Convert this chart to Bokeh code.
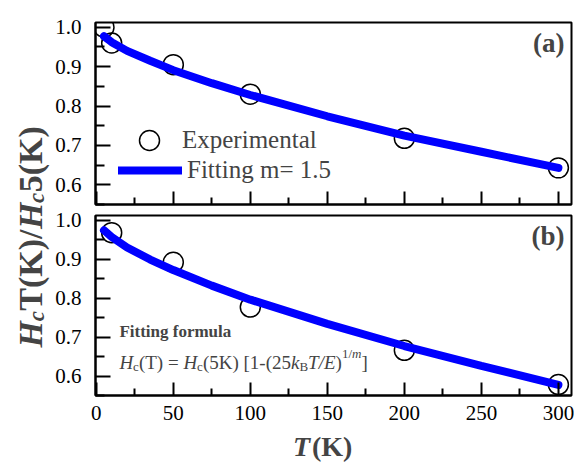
from math import pi
from bokeh.plotting import figure
from bokeh.layouts import row, column
from bokeh.models import Range1d, FixedTicker, PrintfTickFormatter, Label, Legend, LegendItem
from bokeh.embed import file_html
from bokeh.resources import INLINE

# ---------------- data ----------------
T_exp_a = [5, 10, 50, 100, 200, 300]
H_exp_a = [1.0, 0.96, 0.905, 0.83, 0.718, 0.643]

T_exp_b = [10, 50, 100, 200, 300]
H_exp_b = [0.968, 0.892, 0.777, 0.666, 0.578]

T_fit = [5, 10, 20, 35, 50, 75, 100, 150, 200, 250, 300]
H_fit_a = [0.977, 0.962, 0.940, 0.915, 0.891, 0.858, 0.828, 0.774, 0.725, 0.684, 0.643]
H_fit_b = [0.974, 0.957, 0.930, 0.899, 0.872, 0.832, 0.796, 0.734, 0.677, 0.626, 0.577]

x_major = [0, 50, 100, 150, 200, 250, 300]
x_minor = [25, 75, 125, 175, 225, 275]
y_major = [0.6, 0.7, 0.8, 0.9, 1.0]
y_minor = [0.55, 0.65, 0.75, 0.85, 0.95]

FONT = "Liberation Serif"
BLUE = "#0000ff"
FRAME_W = 476
LEFT_B = 41
LAB_W = 52
Y_TOP = 1.012


def make_panel(top, bottom, frame_h):
    p = figure(frame_width=FRAME_W, frame_height=frame_h,
               x_range=Range1d(-0.5, 308.5), y_range=Range1d(0.55, Y_TOP),
               output_backend="svg", toolbar_location=None,
               min_border_left=LEFT_B, min_border_right=4,
               min_border_top=top, min_border_bottom=bottom)
    p.grid.visible = False
    p.outline_line_color = "black"
    p.outline_line_width = 2
    for ax in (p.xaxis[0], p.yaxis[0]):
        ax.axis_line_width = 2
        ax.axis_line_color = "black"
        ax.major_tick_line_width = 2
        ax.minor_tick_line_width = 2
        ax.major_tick_line_color = "black"
        ax.minor_tick_line_color = "black"
        ax.major_tick_out = 0
        ax.minor_tick_out = 0
        ax.major_label_text_font = FONT
        ax.major_label_text_font_size = "21px"
        ax.major_label_text_color = "black"
    p.xaxis.ticker = FixedTicker(ticks=x_major, minor_ticks=x_minor)
    p.yaxis.ticker = FixedTicker(ticks=y_major, minor_ticks=y_minor)
    p.yaxis.formatter = PrintfTickFormatter(format="%.1f")
    p.xaxis.major_tick_in = 13
    p.xaxis.minor_tick_in = 7
    p.yaxis.major_tick_in = 15
    p.yaxis.minor_tick_in = 9
    p.yaxis.major_label_standoff = 14
    return p


# ---------------- panel (a) ----------------
P1_TOP, P1_FH, P1_BOT = 22, 182, 2
p1 = make_panel(P1_TOP, P1_BOT, P1_FH)
p1.xaxis.major_label_text_font_size = "1px"
p1.xaxis.major_label_text_color = None
p1.xaxis.major_label_standoff = 0
sc_a = p1.scatter(T_exp_a, H_exp_a, size=20, marker="circle", fill_color=None,
                  line_color="black", line_width=1.5)
ln_a = p1.line(T_fit, H_fit_a, line_color=BLUE, line_width=8, line_cap="round")


def styled_legend(item, loc, gh, standoff):
    return Legend(items=[item], location=loc, margin=0, padding=0,
                  glyph_width=64, glyph_height=gh, label_standoff=standoff,
                  background_fill_alpha=0, border_line_alpha=0,
                  label_text_font=FONT, label_text_font_size="25px")


p1.add_layout(styled_legend(LegendItem(label="Experimental", renderers=[sc_a]), (22, 39), 50, 1))
p1.add_layout(styled_legend(LegendItem(label="Fitting m= 1.5", renderers=[ln_a]), (23, 19), 30, 5))
p1.add_layout(Label(x=304, y=0.997, text="(a)", text_align="right", text_baseline="top",
                    text_font=FONT, text_font_style="bold", text_font_size="27px"))

# ---------------- panel (b) ----------------
P2_TOP, P2_FH, P2_BOT = 9, 180, 34
p2 = make_panel(P2_TOP, P2_BOT, P2_FH)
p2.xaxis.major_label_standoff = 10
p2.scatter(T_exp_b, H_exp_b, size=20, marker="circle", fill_color=None,
           line_color="black", line_width=1.5)
p2.line(T_fit, H_fit_b, line_color=BLUE, line_width=8, line_cap="round")
p2.add_layout(Label(x=304, y=0.997, text="(b)", text_align="right", text_baseline="top",
                    text_font=FONT, text_font_style="bold", text_font_size="27px"))
p2.add_layout(Label(x=15, y=0.714, text="Fitting formula", text_baseline="middle",
                    text_font=FONT, text_font_style="bold", text_font_size="17px"))

# formula pieces: (text, style, size, dy, advance)
pieces = [("H", "italic", 19, 0, 13.7), ("c", "normal", 13, -4, 5.8),
          ("(T) = ", "normal", 19, 0, 44.5), ("H", "italic", 19, 0, 13.7),
          ("c", "normal", 13, -4, 5.8), ("(5K) [1-(25", "normal", 19, 0, 88.1),
          ("k", "italic", 19, 0, 8.4), ("B", "normal", 13, -4, 8.7),
          ("T/E", "italic", 19, 0, 27.5), (")", "normal", 19, 0, 6.3),
          ("1/", "normal", 13, 9, 10.1), ("m", "italic", 13, 9, 9.4),
          ("]", "normal", 19, 0, 6.3)]
off = 0.0
for txt, sty, sz, dy, w in pieces:
    p2.add_layout(Label(x=15, y=0.634, x_offset=off, y_offset=dy, text=txt,
                        text_baseline="alphabetic", text_font=FONT,
                        text_font_style=sty, text_font_size=f"{sz}px"))
    off += w

# ---------------- x axis title strip:  T(K) ----------------
XL_W = LEFT_B + FRAME_W + 4
XL_H = 34
xlab = figure(width=XL_W, height=XL_H, x_range=Range1d(0, XL_W), y_range=Range1d(0, XL_H),
              x_axis_type=None, y_axis_type=None, output_backend="svg",
              toolbar_location=None, min_border=0, outline_line_color=None)
xlab.grid.visible = False
xlab.add_layout(Label(x=250, y=XL_H / 2, x_offset=-30, text="T", text_baseline="middle",
                      text_font=FONT, text_font_style="bold italic", text_font_size="28px"))
xlab.add_layout(Label(x=250, y=XL_H / 2, x_offset=-11, text="(K)", text_baseline="middle",
                      text_font=FONT, text_font_style="bold", text_font_size="28px"))

# ---------------- y axis title strip ----------------
TOTAL_H = (P1_TOP + P1_FH + P1_BOT) + (P2_TOP + P2_FH + P2_BOT) + XL_H
lab = figure(width=LAB_W, height=TOTAL_H, x_range=Range1d(0, LAB_W), y_range=Range1d(0, TOTAL_H),
             x_axis_type=None, y_axis_type=None, output_backend="svg",
             toolbar_location=None, min_border=0, outline_line_color=None)
lab.grid.visible = False
ypieces = [("H", "bold italic", 34, 0, 26.2), ("c", "bold italic", 23, 6, 10.6),
           ("T(K)/", "bold", 34, 0, 81.6), ("H", "bold italic", 34, 0, 26.2),
           ("c", "bold italic", 23, 6, 10.6), ("5(K)", "bold", 34, 0, 66)]
yo = 0.0
for txt, sty, sz, dx, w in ypieces:
    lab.add_layout(Label(x=30, y=TOTAL_H - 347, x_offset=dx, y_offset=yo, text=txt,
                         angle=pi / 2, text_align="left", text_baseline="alphabetic",
                         text_font=FONT, text_font_style=sty, text_font_size=f"{sz}px"))
    yo += w

layout = row(lab, column(p1, p2, xlab))
open("out.html", "w").write(file_html(layout, INLINE))
